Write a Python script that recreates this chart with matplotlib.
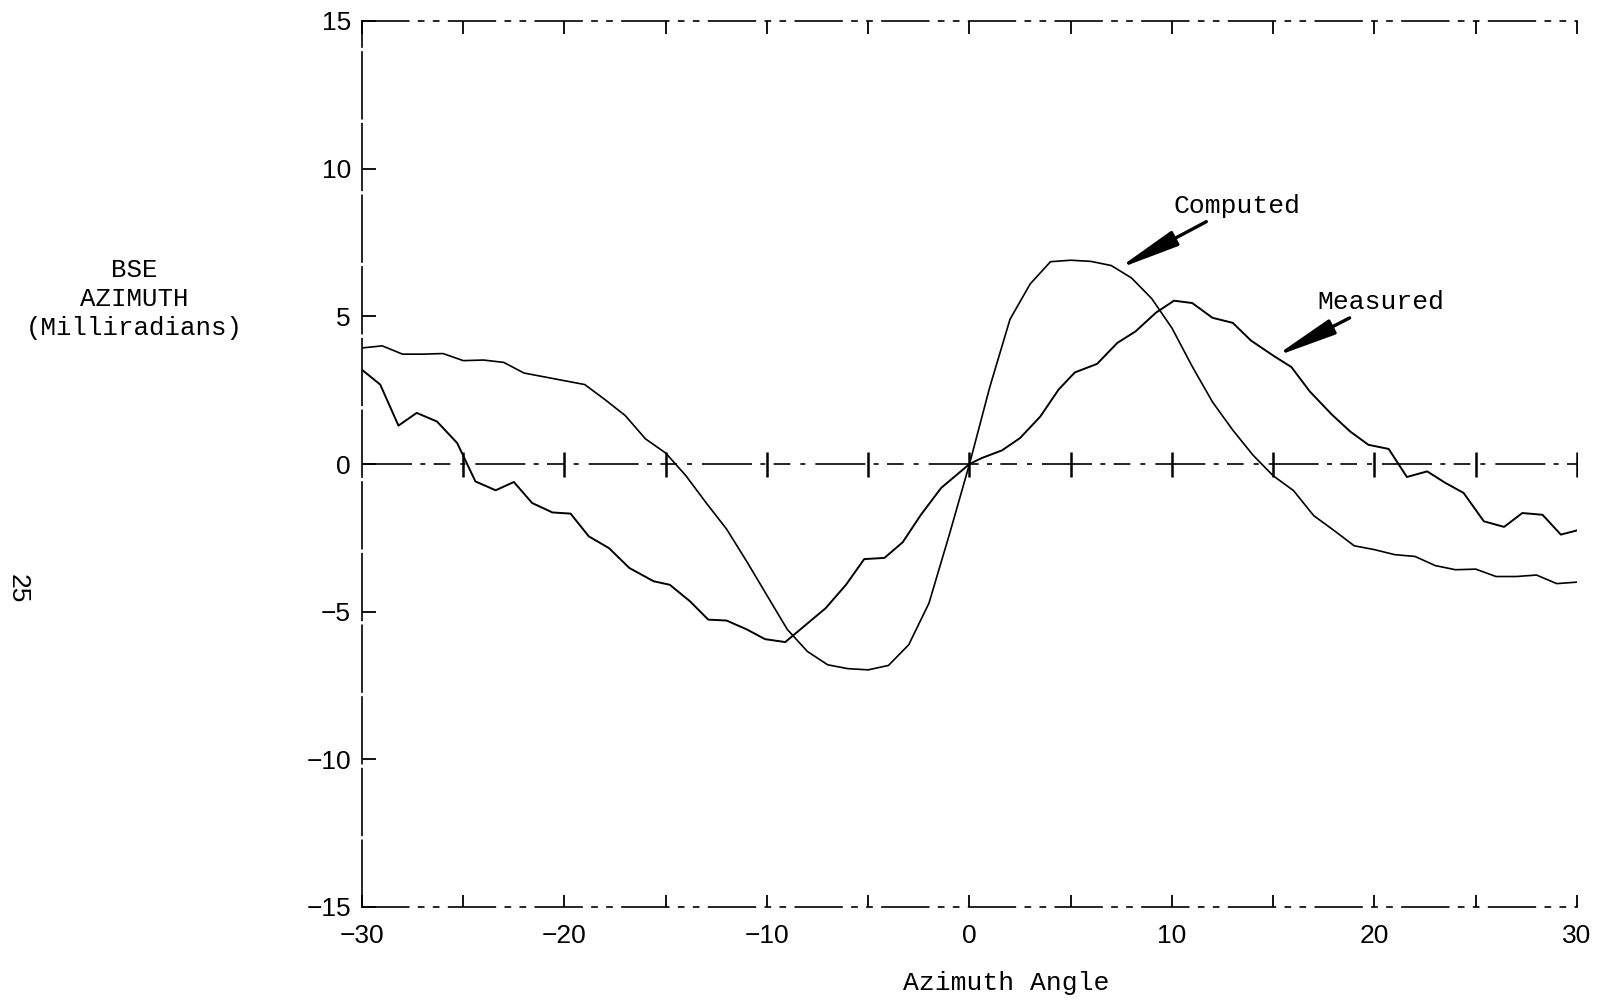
import matplotlib
matplotlib.use("Agg")
import matplotlib.pyplot as plt
import numpy as np

# data
comp_x = list(range(-30, 31))
comp_y = [3.93, 4.0, 3.72, 3.72, 3.74, 3.5, 3.52, 3.44, 3.08, 2.95,
          2.82, 2.69, 2.18, 1.64, 0.85, 0.37, -0.4, -1.32, -2.2, -3.3,
          -4.45, -5.6, -6.35, -6.8, -6.93, -6.97, -6.82, -6.12, -4.71, -2.4,
          0.0, 2.6, 4.9, 6.1, 6.85, 6.9, 6.86, 6.72, 6.3, 5.6,
          4.6, 3.3, 2.1, 1.15, 0.3, -0.4, -0.9, -1.75, -2.25, -2.77,
          -2.9, -3.07, -3.13, -3.44, -3.58, -3.56, -3.81, -3.81, -3.76, -4.05,
          -4.0]

meas_x = [-30, -29.1, -28.2, -27.3, -26.3, -25.3, -24.4, -23.4, -22.5, -21.6,
          -20.6, -19.7, -18.8, -17.8, -16.8, -15.6, -14.8, -13.8, -12.9, -12.0,
          -11.0, -10.1, -9.1, -7.1, -6.1, -5.2, -4.2, -3.3, -2.4, -1.4,
          0.0, 0.6, 1.6, 2.5, 3.5, 4.4, 5.2, 6.3, 7.3, 8.2,
          9.2, 10.1, 11.0, 12.0, 13.0, 13.9, 15.0, 15.9, 16.8, 17.9,
          18.8, 19.7, 20.7, 21.6, 22.6, 23.5, 24.4, 25.4, 26.4, 27.3,
          28.3, 29.2, 30.0]
meas_y = [3.19, 2.69, 1.3, 1.73, 1.44, 0.71, -0.59, -0.89, -0.61, -1.32,
          -1.64, -1.68, -2.45, -2.85, -3.52, -3.97, -4.09, -4.65, -5.27, -5.3,
          -5.6, -5.93, -6.03, -4.88, -4.09, -3.22, -3.18, -2.65, -1.72, -0.81,
          0.0, 0.2, 0.46, 0.88, 1.61, 2.52, 3.1, 3.39, 4.1, 4.49,
          5.12, 5.53, 5.45, 4.95, 4.78, 4.18, 3.67, 3.28, 2.46, 1.67,
          1.1, 0.65, 0.51, -0.44, -0.25, -0.64, -0.98, -1.94, -2.13, -1.66,
          -1.72, -2.39, -2.25]

x_major = [-30, -20, -10, 0, 10, 20, 30]
x_minor = [-25, -15, -5, 5, 15, 25]
y_ticks = [-15, -10, -5, 0, 5, 10, 15]

mono = ["Liberation Mono", "DejaVu Sans Mono"]
narrow = ["Liberation Sans Narrow", "Liberation Sans", "DejaVu Sans"]

fig = plt.figure(figsize=(16.06, 10.05), dpi=100)
ax = fig.add_axes([362 / 1606, 98 / 1005, 1215 / 1606, 886 / 1005])

ax.plot(comp_x, comp_y, color="black", lw=1.2)
ax.plot(meas_x, meas_y, color="black", lw=1.4)

# zero line with + marks
ax.axhline(0, color="black", lw=1.2, ls=(0, (30, 5, 3, 5, 10, 6, 3, 6)))
plus_x = np.arange(-25, 31, 5)
ax.plot(plus_x, np.zeros(len(plus_x)), ls="none", marker="|", ms=18,
        mew=1.8, color="black")

ax.set_xlim(-30, 30)
ax.set_ylim(-15, 15)
ax.set_xticks(x_major)
ax.set_xticks(x_minor, minor=True)
ax.set_yticks(y_ticks)
ax.tick_params(axis="x", which="both", direction="in", top=True, bottom=True,
               length=9, width=1.3, pad=12, labelsize=19)
ax.tick_params(axis="y", which="both", direction="in", left=True, right=False,
               length=10, width=1.3, pad=8, labelsize=19)
for lbl in ax.get_xticklabels() + ax.get_yticklabels():
    lbl.set_fontfamily(narrow)

ax.spines["right"].set_visible(False)
ax.spines["top"].set_linestyle((0, (28, 6, 3, 6, 3, 6)))
ax.spines["bottom"].set_linestyle((0, (28, 6, 3, 6, 3, 6)))
ax.spines["left"].set_linestyle((0, (40, 3)))
for s in ["top", "bottom", "left"]:
    ax.spines[s].set_linewidth(1.2)

# labels with arrows
arrow = dict(arrowstyle="-|>,head_length=1.7,head_width=0.22",
             mutation_scale=22, lw=2.4, color="black", shrinkA=2, shrinkB=0)
ax.annotate("Computed", xy=(7.3, 6.6), xytext=(10.05, 8.75),
            fontsize=19, family=mono, va="center", ha="left", arrowprops=arrow)
ax.annotate("Measured", xy=(15.05, 3.63), xytext=(17.17, 5.49),
            fontsize=19, family=mono, va="center", ha="left", arrowprops=arrow)

fig.text(1006 / 1606, 1 - 983 / 1005, "Azimuth Angle", fontsize=19,
         family=mono, ha="center", va="center")
fig.text(134 / 1606, 1 - 299 / 1005, "BSE\nAZIMUTH\n(Milliradians)",
         fontsize=18.5, family=mono, ha="center", va="center",
         multialignment="center", linespacing=1.25)
fig.text(18 / 1606, 1 - 589 / 1005, "25", fontsize=19, family=narrow,
         rotation=-90, ha="center", va="center")

fig.savefig("out.png", dpi=100)
